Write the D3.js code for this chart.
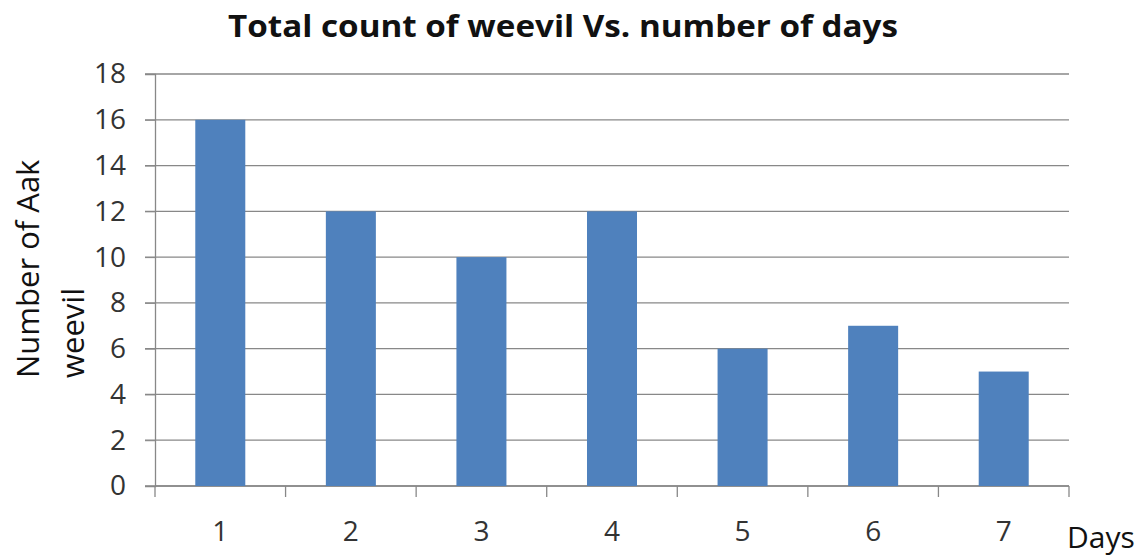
<!DOCTYPE html>
<html>
<head>
<meta charset="utf-8">
<script src="https://cdn.jsdelivr.net/npm/d3@7"></script>
<style>
  body { margin: 0; background: #fff; }
  svg text { font-family: "Open Sans", "Noto Sans", sans-serif; }
</style>
</head>
<body>
<svg id="chart" width="1141" height="557"></svg>
<script>
  var days = ["1", "2", "3", "4", "5", "6", "7"];
  var weevilCounts = [16, 12, 10, 12, 6, 7, 5];
  var yTicks = [0, 2, 4, 6, 8, 10, 12, 14, 16, 18];

  var svg = d3.select("#chart");
  var margin = { left: 155, right: 72, top: 74, bottom: 71 };
  var width = 1141 - margin.left - margin.right,
      height = 557 - margin.top - margin.bottom;

  var g = svg.append("g")
      .attr("transform", "translate(" + margin.left + "," + margin.top + ")");

  var x = d3.scaleBand().domain(days).range([0, width]).paddingInner(0.617).paddingOuter(0.3085);
  var y = d3.scaleLinear().domain([0, 18]).range([height, 0]);

  // gridlines
  g.append("g")
      .selectAll("line")
      .data(yTicks)
      .enter().append("line")
      .attr("x1", -10)
      .attr("x2", width)
      .attr("y1", function(d){ return y(d); })
      .attr("y2", function(d){ return y(d); })
      .attr("stroke", "#888")
      .attr("stroke-width", 1.3);

  // y axis
  var yAxis = g.append("g")
      .call(d3.axisLeft(y).tickValues(yTicks).tickSize(10).tickPadding(19));
  yAxis.select(".domain").attr("stroke", "#888").attr("stroke-width", 1.3);
  yAxis.selectAll(".tick line").attr("stroke", "#888");
  yAxis.selectAll("text").attr("font-size", 28).attr("fill", "#333");

  // x axis, ticks on category boundaries
  var step = x.step();
  var xg = g.append("g").attr("transform", "translate(0," + height + ")");
  xg.append("line").attr("x1", 0).attr("x2", width).attr("stroke", "#888").attr("stroke-width", 1.3);
  xg.selectAll("line.bound")
      .data(d3.range(days.length + 1))
      .enter().append("line")
      .attr("class", "bound")
      .attr("x1", function(i){ return i * step; })
      .attr("x2", function(i){ return i * step; })
      .attr("y1", 0).attr("y2", 11)
      .attr("stroke", "#888").attr("stroke-width", 1.3);
  xg.selectAll("text")
      .data(days)
      .enter().append("text")
      .attr("x", function(d){ return x(d) + x.bandwidth() / 2; })
      .attr("y", 55)
      .attr("text-anchor", "middle")
      .attr("font-size", 28)
      .attr("fill", "#333")
      .text(function(d){ return d; });

  // bars
  g.selectAll("rect.bar")
      .data(weevilCounts)
      .enter().append("rect")
      .attr("class", "bar")
      .attr("x", function(d, i){ return x(days[i]); })
      .attr("y", function(d){ return y(d); })
      .attr("width", x.bandwidth())
      .attr("height", function(d){ return height - y(d); })
      .attr("fill", "#4F81BD");

  // title
  svg.append("text")
      .attr("x", 563)
      .attr("y", 37)
      .attr("text-anchor", "middle")
      .attr("font-size", 31)
      .attr("font-weight", "bold")
      .attr("fill", "#111")
      .attr("textLength", 670)
      .attr("lengthAdjust", "spacingAndGlyphs")
      .text("Total count of weevil Vs. number of days");

  // y title, two lines bottom-aligned
  var yt = svg.append("text")
      .attr("transform", "translate(0,378) rotate(-90)")
      .attr("font-size", 31)
      .attr("fill", "#111");
  yt.append("tspan").attr("x", 0).attr("y", 39).text("Number of Aak");
  yt.append("tspan").attr("x", 0).attr("y", 84).text("weevil");

  // x title
  svg.append("text")
      .attr("x", 1067)
      .attr("y", 548)
      .attr("font-size", 30)
      .attr("fill", "#111")
      .text("Days");
</script>
</body>
</html>
